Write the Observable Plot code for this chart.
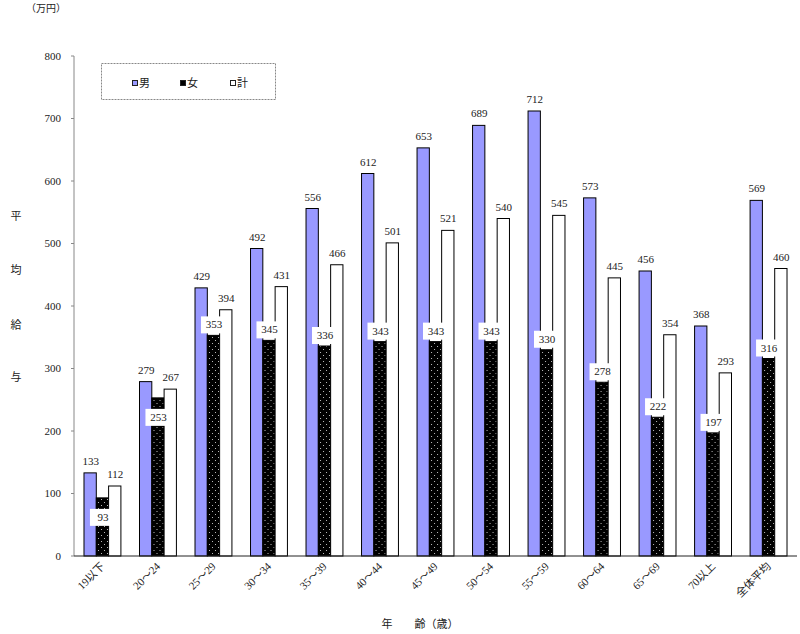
<!DOCTYPE html>
<html>
<head>
<meta charset="utf-8">
<script src="https://cdn.jsdelivr.net/npm/d3@7"></script>
<script src="https://cdn.jsdelivr.net/npm/@observablehq/plot@0.6"></script>
<style>
  html, body { margin: 0; padding: 0; background: white; }
  #chart { position: relative; width: 800px; height: 634px; overflow: hidden; }
  #chart svg, #chart svg text { font-family: "Liberation Serif", "Noto Sans CJK JP", serif !important; }
</style>
</head>
<body>
<svg width="0" height="0" style="position:absolute">
  <defs>
    <pattern id="dots" width="6" height="6" patternUnits="userSpaceOnUse">
      <rect width="6" height="6" fill="black"></rect>
      <rect x="1" y="1" width="1" height="1" fill="#bbb"></rect>
      <rect x="4" y="4" width="1" height="1" fill="#bbb"></rect>
    </pattern>
  </defs>
</svg>
<div id="chart"></div>
<script>
const categories = ["19以下","20～24","25～29","30～34","35～39","40～44","45～49","50～54","55～59","60～64","65～69","70以上","全体平均"];
const male   = [133,279,429,492,556,612,653,689,712,573,456,368,569];
const female = [93,253,353,345,336,343,343,343,330,278,222,197,316];
const total  = [112,267,394,431,466,501,521,540,545,445,354,293,460];
const seriesNames = ["男","女","計"];
const yTicks = [0,100,200,300,400,500,600,700,800];

const rows = [];
categories.forEach((c, i) => {
  rows.push({category: c, series: "男", value: male[i]});
  rows.push({category: c, series: "女", value: female[i], below: total[i] - female[i] < 30});
  rows.push({category: c, series: "計", value: total[i]});
});

const boxSymbol = { draw(ctx) { ctx.rect(-13, -8.5, 26, 17); } };
const txtColor = "#222";
const font = "'Liberation Serif','Noto Sans CJK JP',serif";

const plot = Plot.plot({
  width: 800, height: 634,
  marginLeft: 74, marginRight: 3, marginTop: 56, marginBottom: 78,
  style: { fontFamily: font, fontSize: "11px", color: txtColor, background: "white" },
  fx: { domain: categories, paddingInner: 0.335, paddingOuter: 0.18, round: false, label: null, tickRotate: -45, tickSize: 0, tickPadding: 8, axis: "bottom" },
  x: { domain: seriesNames, axis: null, padding: 0, round: false },
  y: { domain: [0, 800], axis: null },
  marks: [
    Plot.barY(rows, { filter: d => d.series === "男", fx: "category", x: "series", y: "value", fill: "#9999ff", stroke: "black", strokeWidth: 1 }),
    Plot.barY(rows, { filter: d => d.series === "女", fx: "category", x: "series", y: "value", fill: "url(#dots)", stroke: "black", strokeWidth: 1 }),
    Plot.barY(rows, { filter: d => d.series === "計", fx: "category", x: "series", y: "value", fill: "white", stroke: "black", strokeWidth: 1 }),
    Plot.text(rows, { filter: d => d.series !== "女", fx: "category", x: "series", y: "value", text: d => String(d.value), dy: -12, fill: txtColor }),
    Plot.dot(rows, { filter: d => d.series === "女" && !d.below, fx: "category", x: "series", y: "value", symbol: boxSymbol, fill: "white", stroke: "none", dy: -11 }),
    Plot.text(rows, { filter: d => d.series === "女" && !d.below, fx: "category", x: "series", y: "value", text: d => String(d.value), dy: -11, fill: txtColor }),
    Plot.dot(rows, { filter: d => d.series === "女" && d.below, fx: "category", x: "series", y: "value", symbol: boxSymbol, fill: "white", stroke: "none", dy: 19 }),
    Plot.text(rows, { filter: d => d.series === "女" && d.below, fx: "category", x: "series", y: "value", text: d => String(d.value), dy: 19, fill: txtColor })
  ]
});

document.getElementById("chart").appendChild(plot);

const svg = d3.select(plot);
svg.style("font-family", font);
const yScale = plot.scale("y");
const y0 = yScale.apply(0), yTop = yScale.apply(800);
const left = 74, right = 797;

// y axis: line, ticks, labels (positions from Plot's y scale)
svg.append("line").attr("x1", left).attr("x2", left).attr("y1", y0).attr("y2", yTop)
  .attr("stroke", "#888").attr("stroke-width", 1);
const yAxis = svg.append("g");
yTicks.forEach(t => {
  const yy = yScale.apply(t);
  yAxis.append("line").attr("x1", left - 3).attr("x2", left).attr("y1", yy).attr("y2", yy)
    .attr("stroke", "#888").attr("stroke-width", 1);
  yAxis.append("text").attr("x", left - 13).attr("y", yy).attr("dy", "0.35em").attr("text-anchor", "end")
    .attr("font-family", font).attr("font-size", 11).attr("fill", txtColor).text(String(t));
});
// x baseline
svg.append("line").attr("x1", left).attr("x2", right).attr("y1", y0).attr("y2", y0)
  .attr("stroke", "#222").attr("stroke-width", 1);

// unit label
svg.append("text").attr("x", 46).attr("y", 12).attr("text-anchor", "middle")
  .attr("font-family", font).attr("font-size", 10).attr("fill", txtColor).text("（万円）");

// y title, vertical characters
const yTitle = ["平","均","給","与"];
const yTitleY = [216, 270, 325, 377];
yTitle.forEach((ch, i) => {
  svg.append("text").attr("x", 16).attr("y", yTitleY[i]).attr("text-anchor", "middle").attr("dy", "0.35em")
    .attr("font-family", font).attr("font-size", 11).attr("fill", txtColor).text(ch);
});

// x title
svg.append("text").attr("x", 420).attr("y", 628).attr("text-anchor", "middle")
  .attr("font-family", font).attr("font-size", 11).attr("fill", txtColor).text("年　　齢（歳）");

// legend
const lg = svg.append("g");
lg.append("rect").attr("x", 101.5).attr("y", 63.5).attr("width", 174).attr("height", 36)
  .attr("fill", "white").attr("stroke", "#888").attr("stroke-dasharray", "2,1");
const legendFill = ["#9999ff", "black", "white"];
const legendX = [132, 180, 230];
seriesNames.forEach((s, i) => {
  lg.append("rect").attr("x", legendX[i] + 0.5).attr("y", 80.5).attr("width", 5).attr("height", 5)
    .attr("fill", legendFill[i]).attr("stroke", "#222").attr("stroke-width", 1);
  lg.append("text").attr("x", legendX[i] + 7).attr("y", 83).attr("dy", "0.35em").attr("text-anchor", "start")
    .attr("font-family", font).attr("font-size", 11).attr("fill", txtColor).text(s);
});
</script>
</body>
</html>
